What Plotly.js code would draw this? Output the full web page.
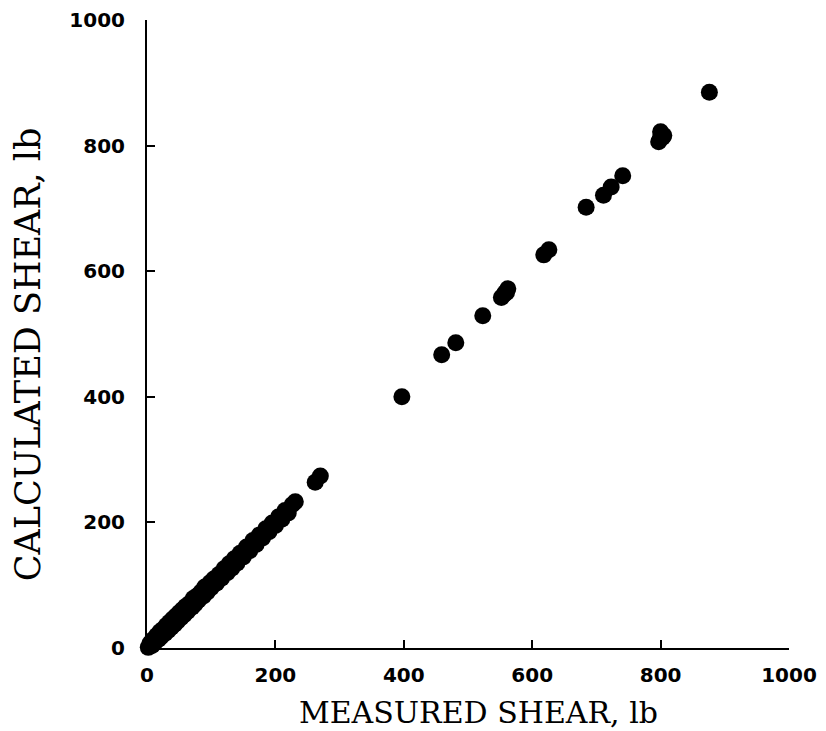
<!DOCTYPE html>
<html>
<head>
<meta charset="utf-8">
<script src="https://cdn.plot.ly/plotly-3.0.1.min.js"></script>
<style>html,body{margin:0;padding:0;background:#fff;}#chart{width:826px;height:731px;}</style>
</head>
<body>
<div id="chart"></div>
<script>
// Measured vs calculated shear (lb)
const measuredShear = [
  2, 5, 8, 10, 12, 15, 18, 20, 22, 25, 28, 30, 33, 35, 38, 40, 43, 45, 48, 50,
  53, 55, 58, 60, 63, 66, 70, 72, 75, 78, 80, 84, 88, 90, 94, 98, 100, 104, 108, 112,
  116, 120, 125, 128, 132, 136, 140, 145, 150, 155, 160, 165, 170, 175, 180, 185, 190, 195, 200, 205,
  210, 215, 220, 226, 231, 262, 270,
  397, 459, 481, 523, 552, 558, 562, 556, 560, 618, 626, 684, 711, 723, 741, 797, 803, 800, 805, 800, 876
];
const calculatedShear = [
  1, 8, 4, 14, 8, 20, 14, 26, 18, 30, 23, 36, 28, 41, 33, 46, 38, 51, 43, 56,
  48, 61, 53, 66, 58, 71, 65, 79, 70, 83, 76, 89, 83, 97, 89, 104, 96, 110, 103, 117,
  111, 126, 120, 134, 127, 142, 135, 151, 145, 161, 155, 171, 165, 180, 175, 190, 185, 199, 195, 209,
  205, 219, 215, 228, 233, 264, 274,
  400, 467, 486, 529, 558, 566, 572, 563, 566, 626, 634, 702, 721, 734, 752, 806, 813, 822, 816, 814, 885
];
const xTickVals = [0, 200, 400, 600, 800, 1000];
const yTickVals = [0, 200, 400, 600, 800, 1000];
const xTitle = 'MEASURED SHEAR, lb';
const yTitle = 'CALCULATED SHEAR, lb';

const trace = {
  x: measuredShear,
  y: calculatedShear,
  type: 'scatter',
  mode: 'markers',
  marker: {color: '#000', size: 17, line: {width: 0}},
  cliponaxis: false,
  hoverinfo: 'x+y'
};

const tickFont = {family: 'DejaVu Sans', size: 20, color: '#000', weight: 'bold'};

const layout = {
  width: 826, height: 731,
  margin: {l: 147, r: 37, t: 20, b: 83},
  paper_bgcolor: '#fff', plot_bgcolor: '#fff',
  showlegend: false,
  xaxis: {
    range: [0, 1000], tickvals: xTickVals, ticktext: xTickVals.map(String),
    showline: true, linecolor: '#000', linewidth: 2,
    ticks: 'inside', ticklen: 8, tickwidth: 2, tickcolor: '#000',
    showgrid: false, zeroline: false, tickfont: tickFont, ticklabelstandoff: 8,
    title: {text: ''}
  },
  yaxis: {
    range: [0, 1000], tickvals: yTickVals, ticktext: yTickVals.map(String),
    showline: true, linecolor: '#000', linewidth: 2,
    ticks: 'inside', ticklen: 8, tickwidth: 2, tickcolor: '#000',
    showgrid: false, zeroline: false, tickfont: tickFont, ticklabelstandoff: 16,
    title: {text: ''}
  },
  annotations: [
    {text: xTitle, xref: 'paper', yref: 'paper', x: 0.516, y: -0.103,
     xanchor: 'center', yanchor: 'middle', showarrow: false,
     font: {family: 'DejaVu Serif', size: 30, color: '#000'}},
    {text: yTitle, xref: 'paper', yref: 'paper', x: -0.185, y: 0.468,
     xanchor: 'center', yanchor: 'middle', showarrow: false, textangle: -90,
     font: {family: 'DejaVu Serif', size: 35, color: '#000'}}
  ]
};

Plotly.newPlot('chart', [trace], layout, {displayModeBar: false, staticPlot: true});
</script>
</body>
</html>
